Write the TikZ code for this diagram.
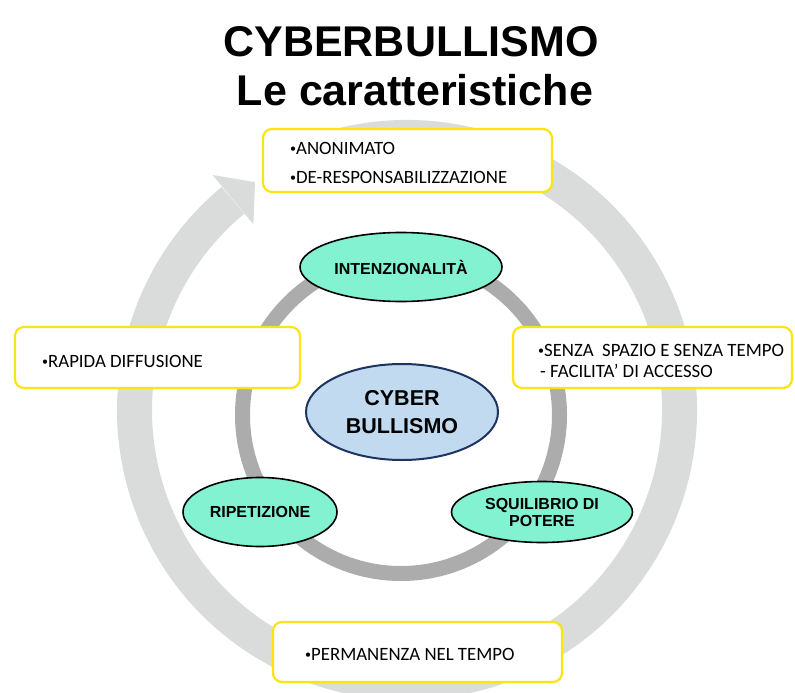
\documentclass[tikz,border=0pt]{standalone}
\usepackage{fontspec}
\setmainfont{Liberation Sans}
\newfontfamily\boxfont{Carlito}
\usetikzlibrary{shapes.geometric}
\definecolor{ringout}{RGB}{217,220,218}
\definecolor{ringin}{RGB}{172,172,172}
\definecolor{mint}{RGB}{130,242,208}
\definecolor{cyblue}{RGB}{193,218,240}
\definecolor{navy}{RGB}{30,52,96}
\definecolor{boxyellow}{RGB}{250,228,20}
\newcommand{\mybul}{{\fontsize{12}{12}\selectfont\raisebox{1.5pt}{•}}}
\tikzset{
  mintell/.style={ellipse, draw=black, line width=1.6pt, fill=mint, inner sep=0pt,
    font=\fontsize{16}{17}\selectfont\bfseries, align=center},
  ybox/.style={rectangle, rounded corners=9pt, draw=boxyellow, line width=2.2pt, fill=white, inner sep=0pt},
  btext/.style={anchor=base west, inner sep=0pt, font=\boxfont\fontsize{18.8}{20}\selectfont},
  ttext/.style={anchor=base, inner sep=0pt, font=\fontsize{43}{48}\selectfont\bfseries}
}
\begin{document}
\begin{tikzpicture}[x=1pt,y=1pt]
\useasboundingbox (0,0) rectangle (795,-693);
\fill[white] (0,0) rectangle (795,-693);
% title
\node[ttext] (t1) at (411,-57) {CYBERBULLISMO};
\node[ttext] (t2) at (415,-105) {Le caratteristiche};
% outer circular arrow
\coordinate (oc) at (407,-410);
\coordinate (ic) at (401,-415);
\draw[ringout, line width=35pt] ([shift={(112:272.5)}]oc) arc[start angle=112, end angle=-230.3, radius=272.5];
\fill[ringout] ([shift={(129.6:305)}]oc) -- ([shift={(123.7:274)}]oc) -- ([shift={(129.6:241)}]oc) -- cycle;
% inner ring
\draw[ringin, line width=15pt] (ic) circle[radius=158.5];
% ellipses
\node[mintell, minimum width=202pt, minimum height=69pt] (int) at (401,-267) {INTENZIONALITÀ};
\node[ellipse, draw=navy, line width=2pt, fill=cyblue, inner sep=0pt, minimum width=192pt, minimum height=96pt,
  font=\fontsize{21.5}{28}\selectfont\bfseries, align=center] (cyb) at (402,-412) {CYBER\\BULLISMO};
\node[mintell, minimum width=154pt, minimum height=69pt] (rip) at (260,-512) {RIPETIZIONE};
\node[mintell, minimum width=181pt, minimum height=61pt] (squ) at (542,-512) {SQUILIBRIO DI\\POTERE};
% boxes
\node[ybox, minimum width=289pt, minimum height=63pt] (btop) at (407.5,-160.5) {};
\node[ybox, minimum width=285pt, minimum height=61pt] (bleft) at (157.5,-357.5) {};
\node[ybox, minimum width=279pt, minimum height=61pt] (bright) at (652.5,-357.5) {};
\node[ybox, minimum width=289pt, minimum height=60pt] (bbot) at (417.5,-652) {};
% box texts
\node[btext] (a1) at (290,-154) {\mybul ANONIMATO};
\node[btext] (a2) at (290,-183) {\mybul DE-RESPONSABILIZZAZIONE};
\node[btext] (l1) at (42,-367) {\mybul RAPIDA DIFFUSIONE};
\node[btext] (r1) at (538,-356) {\mybul SENZA~~SPAZIO E SENZA TEMPO};
\node[btext] (r2) at (540,-377) {- FACILITA’ DI ACCESSO};
\node[btext] (p1) at (305,-660) {\mybul PERMANENZA NEL TEMPO};
\end{tikzpicture}
\end{document}
